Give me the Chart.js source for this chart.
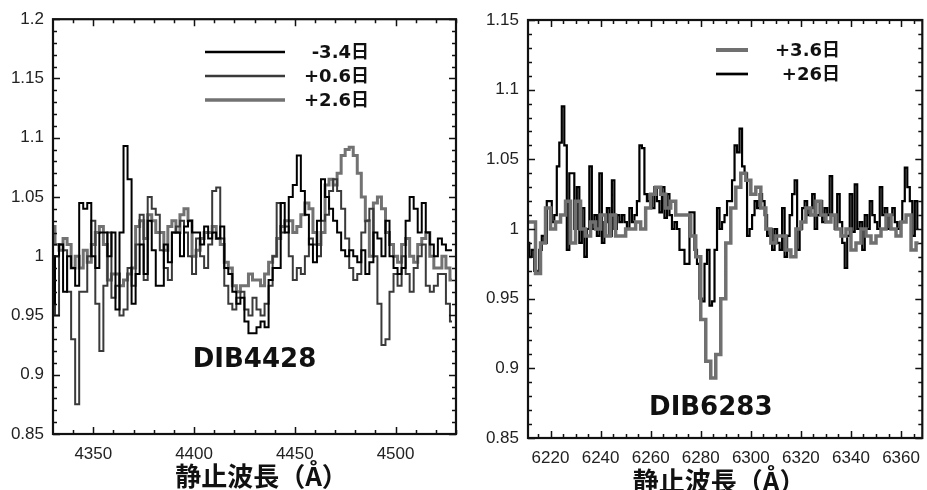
<!DOCTYPE html>
<html>
<head>
<meta charset="utf-8">
<script src="https://cdn.jsdelivr.net/npm/chart.js@4"></script>
<style>
  html, body { margin: 0; padding: 0; background: #fff; overflow: hidden; }
  #wrap { position: relative; width: 927px; height: 490px; overflow: hidden; }
  #left { position: absolute; left: 0; top: 0; }
  #right { position: absolute; left: 460px; top: 0; }
</style>
</head>
<body>
<div id="wrap">
  <canvas id="left" width="460" height="490"></canvas>
  <canvas id="right" width="470" height="490"></canvas>
</div>
<script>
// ---- DIB4428 panel (rest wavelength grid: start + step in Å) ----
const leftStart = 4330, leftStep = 2;
const leftLabels = ['-3.4日', '+0.6日', '+2.6日'];
const fluxM34 = [
  0.96, 1.00, 1.01, 0.97, 1.00, 0.99, 0.975, 1.045, 1.04, 1.045,
  1.0, 0.99, 1.02, 1.02, 1.0, 1.02, 0.955, 1.02, 1.093, 1.065,
  0.96, 0.985, 1.01, 0.985, 1.03, 1.005, 0.975, 0.975, 1.01, 0.995,
  1.02, 1.02, 1.0, 1.025, 1.03, 1.02, 1.02, 1.01, 1.025, 1.015,
  1.02, 1.015, 1.025, 0.99, 0.985, 0.97, 0.96, 0.965, 0.945, 0.935,
  0.935, 0.94, 0.945, 0.94, 0.98, 0.99, 0.99, 1.045, 1.02, 1.05,
  1.06, 1.085, 1.055, 1.035, 1.01, 0.995, 1.03, 1.065, 1.05, 1.04,
  1.03, 1.02, 1.005, 1.0, 1.005, 1.0, 0.995, 1.005, 0.985, 0.995,
  1.02, 1.015, 1.0, 1.03, 1.0, 0.99, 0.985, 0.99, 1.03, 1.05,
  1.04, 1.02, 1.045, 1.02, 1.01, 1.0, 1.015, 1.01, 1.005, 1.005
];
const fluxP06 = [
  1.0, 0.95, 1.01, 1.005, 0.97, 0.93, 0.875, 0.97, 0.97, 1.0,
  1.03, 0.96, 0.92, 0.975, 1.02, 0.965, 0.975, 0.95, 0.955, 0.99,
  0.975, 1.01, 1.035, 0.98, 1.05, 1.04, 1.035, 1.005, 0.99, 0.98,
  1.02, 1.025, 1.03, 1.02, 1.0, 0.985, 1.015, 1.0, 0.99, 1.01,
  1.055, 1.058, 1.015, 0.975, 0.96, 0.955, 0.965, 0.97, 0.955, 0.95,
  0.965, 0.955, 0.95, 0.96, 0.975, 1.0, 1.045, 1.02, 1.025, 1.0,
  0.98, 0.99, 0.985, 1.0, 1.015, 1.01, 1.0, 1.03, 1.035, 1.055,
  1.065, 1.055, 1.04, 1.015, 0.99, 0.98, 0.985, 1.02, 1.03, 1.04,
  1.0, 0.96, 0.925, 0.93, 0.97, 0.985, 0.975, 1.0, 0.985, 0.97,
  0.99, 1.0, 1.01, 0.975, 0.97, 0.975, 0.985, 0.985, 0.96, 0.945
];
const fluxP26 = [
  1.025, 1.01, 1.005, 1.015, 1.01, 0.99, 1.0, 0.99, 1.005, 0.995,
  1.01, 1.02, 1.025, 1.01, 0.98, 0.985, 0.985, 0.975, 0.98, 0.985,
  0.99, 1.025, 1.03, 1.015, 1.035, 1.03, 1.02, 1.02, 1.005, 1.025,
  1.03, 1.02, 1.035, 1.04, 1.03, 1.0, 1.005, 1.015, 1.02, 1.02,
  1.025, 1.015, 1.01, 0.995, 0.99, 0.975, 0.97, 0.975, 0.975, 0.985,
  0.98, 0.98, 0.975, 0.985, 0.995, 1.0, 1.015, 1.025, 1.03, 1.03,
  1.02, 1.025, 1.035, 1.045, 1.04, 1.02, 1.01, 1.02, 1.06, 1.065,
  1.06, 1.07, 1.085, 1.09, 1.092, 1.085, 1.07, 1.05, 1.03, 1.0,
  1.045, 1.05, 1.04, 1.02, 1.01, 1.0, 0.995, 1.01, 1.015, 1.0,
  0.995, 1.01, 1.015, 1.02, 1.0, 0.99, 0.99, 1.0, 0.99, 0.98
];
const leftXTicks = [4350, 4400, 4450, 4500];
const leftYTicks = [0.85, 0.9, 0.95, 1, 1.05, 1.1, 1.15, 1.2];
const leftYTickLabels = ['0.85', '0.9', '0.95', '1', '1.05', '1.1', '1.15', '1.2'];

// ---- DIB6283 panel ----
const grayStart = 6211, grayStep = 2;
const blackStart = 6211, blackStep = 1;
const rightLabels = ['+3.6日', '+26日'];
const fluxP36 = [
  1.005, 1.005, 0.968, 0.99, 1.015, 1.0, 1.005, 1.01, 1.02, 0.99,
  1.02, 1.0, 0.995, 1.005, 1.0, 1.01, 0.995, 1.01, 0.995, 0.995,
  1.0, 1.0, 1.005, 1.0, 1.015, 1.025, 1.03, 1.025, 1.015, 1.02,
  1.01, 1.01, 1.01, 0.995, 0.98, 0.935, 0.905, 0.893, 0.91, 0.95,
  0.99, 1.015, 1.03, 1.04, 1.035, 1.025, 1.03, 1.015, 1.0, 0.99,
  0.995, 0.995, 0.985, 0.98, 1.0, 1.005, 1.015, 1.01, 1.02, 1.01,
  1.005, 1.01, 1.0, 0.995, 1.0, 0.985, 0.99, 1.0, 0.995, 0.99,
  0.995, 1.0, 1.01, 1.0, 0.995, 1.005, 1.01, 0.985, 0.99
];
const fluxP26d = [
  0.99, 0.98, 0.985, 0.97, 0.968, 0.985, 0.995, 0.99, 1.02, 1.02,
  1.005, 1.01, 1.045, 1.062, 1.088, 1.06, 0.985, 1.04, 1.04, 1.0,
  1.03, 0.99, 1.015, 0.98, 1.0, 1.045, 1.0, 1.01, 0.995, 1.04,
  0.99, 1.005, 1.015, 0.995, 1.035, 1.0, 1.01, 1.005, 1.01, 1.005,
  1.0, 1.015, 1.005, 1.01, 1.02, 1.06, 1.058, 1.025, 1.02, 1.025,
  1.015, 1.03, 1.02, 1.012, 1.03, 1.008, 1.025, 1.01, 1.0, 1.005,
  1.0, 0.985, 0.985, 0.975, 0.975, 1.012, 1.012, 0.985, 0.975, 0.95,
  0.948, 0.975, 0.985, 0.945, 0.948, 0.985, 1.015, 1.0, 1.005, 1.01,
  1.02, 1.02, 1.035, 1.06, 1.055, 1.072, 1.045, 1.04, 0.995, 1.0,
  1.01, 1.02, 1.015, 1.025, 1.02, 1.01, 0.995, 1.0, 0.985, 1.0,
  0.99, 0.985, 1.015, 0.98, 0.995, 1.01, 1.025, 1.035, 0.985, 1.0,
  1.015, 1.02, 1.01, 1.015, 1.025, 1.0, 1.01, 1.02, 1.005, 1.015,
  1.01, 1.038, 1.01, 1.0, 1.025, 1.005, 0.99, 0.972, 0.995, 1.025,
  0.998, 1.032, 1.0, 1.005, 0.985, 1.01, 1.0, 1.02, 1.01, 1.005,
  1.0, 1.03, 1.01, 1.015, 1.0, 1.01, 1.015, 1.005, 1.0, 1.005,
  1.02, 1.044, 1.03, 1.02, 0.995, 1.02, 1.0
];
const rightXTicks = [6220, 6240, 6260, 6280, 6300, 6320, 6340, 6360];
const rightYTicks = [0.85, 0.9, 0.95, 1, 1.05, 1.1, 1.15];
const rightYTickLabels = ['0.85', '0.9', '0.95', '1', '1.05', '1.1', '1.15'];

const axisTitle = '静止波長（Å）';

function toPoints(start, step, values) {
  return values.map((v, i) => ({ x: start + i * step, y: v }));
}

function line(label, data, color, width) {
  return {
    label: label,
    data: data,
    borderColor: color,
    borderWidth: width,
    pointRadius: 0,
    stepped: 'middle',
    fill: false,
    borderJoinStyle: 'miter'
  };
}

// frame, inward ticks, legend and text labels
const decor = {
  id: 'decor',
  afterDraw(chart, args, o) {
    const ctx = chart.ctx;
    const a = chart.chartArea;
    const xs = chart.scales.x, ys = chart.scales.y;
    ctx.save();
    ctx.strokeStyle = '#111';
    ctx.lineWidth = 1.5;
    ctx.beginPath();
    for (let v = o.xMinorFrom; v <= xs.max; v += o.xMinor) {
      const px = Math.round(xs.getPixelForValue(v)) + 0.5;
      const len = o.xTicks.includes(v) ? 7 : 4;
      ctx.moveTo(px, a.bottom); ctx.lineTo(px, a.bottom - len);
      ctx.moveTo(px, a.top); ctx.lineTo(px, a.top + len);
    }
    for (let k = 0; k <= Math.round((ys.max - ys.min) / 0.01); k++) {
      const v = ys.min + k * 0.01;
      const py = Math.round(ys.getPixelForValue(v)) + 0.5;
      const len = (k % 5 === 0) ? 7 : 4;
      ctx.moveTo(a.left, py); ctx.lineTo(a.left + len, py);
      ctx.moveTo(a.right, py); ctx.lineTo(a.right - len, py);
    }
    ctx.stroke();
    ctx.lineWidth = 2.2;
    ctx.strokeRect(a.left, a.top, a.right - a.left, a.bottom - a.top);

    // legend
    ctx.textAlign = 'right';
    ctx.textBaseline = 'middle';
    ctx.fillStyle = '#111';
    ctx.font = 'bold 18px "DejaVu Sans", "Noto Sans CJK JP", sans-serif';
    chart.data.datasets.forEach((ds, i) => {
      const y = o.legendY[i];
      ctx.strokeStyle = ds.borderColor;
      ctx.lineWidth = ds.borderWidth + 0.5;
      ctx.beginPath();
      ctx.moveTo(o.legendX[0], y); ctx.lineTo(o.legendX[1], y);
      ctx.stroke();
      ctx.fillText(ds.label, o.legendX[2], y + 1);
    });

    // DIB name inside the plot
    ctx.textAlign = 'center';
    ctx.font = 'bold 26px "DejaVu Sans", sans-serif';
    ctx.fillText(o.name, xs.getPixelForValue(o.nameAt[0]), ys.getPixelForValue(o.nameAt[1]));

    // axis title
    ctx.font = 'bold 26px "Noto Sans CJK JP", "DejaVu Sans", sans-serif';
    ctx.fillText(axisTitle, (a.left + a.right) / 2 + o.titleDx, o.titleY);
    ctx.restore();
  }
};

function makeChart(id, datasets, cfg) {
  new Chart(document.getElementById(id), {
    type: 'line',
    data: { datasets: datasets },
    plugins: [decor],
    options: {
      responsive: false,
      animation: false,
      events: [],
      layout: { padding: cfg.padding },
      plugins: {
        legend: { display: false },
        tooltip: { enabled: false },
        decor: cfg.decor
      },
      scales: {
        x: {
          type: 'linear',
          min: cfg.xMin,
          max: cfg.xMax,
          afterFit: s => { s.height = cfg.xHeight; },
          afterBuildTicks: s => { s.ticks = cfg.xTicks.map(v => ({ value: v })); },
          grid: { display: false, drawTicks: false },
          border: { display: false },
          ticks: {
            padding: 10,
            maxRotation: 0,
            color: '#222',
            font: { family: 'Liberation Sans, Arial, sans-serif', size: 17 },
            callback: v => String(v)
          }
        },
        y: {
          min: cfg.yMin,
          max: cfg.yMax,
          afterFit: s => { s.width = cfg.yWidth; },
          afterBuildTicks: s => { s.ticks = cfg.yTicks.map(v => ({ value: v })); },
          grid: { display: false, drawTicks: false },
          border: { display: false },
          ticks: {
            padding: 9,
            color: '#222',
            font: { family: 'Liberation Sans, Arial, sans-serif', size: 17 },
            callback: (v, i) => cfg.yTickLabels[i]
          }
        }
      }
    }
  });
}

makeChart('left', [
  line(leftLabels[0], toPoints(leftStart, leftStep, fluxM34), '#000', 2),
  line(leftLabels[1], toPoints(leftStart, leftStep, fluxP06), '#3a3a3a', 2),
  line(leftLabels[2], toPoints(leftStart, leftStep, fluxP26), '#727272', 3)
], {
  padding: { left: 0, right: 4, top: 16, bottom: 0 },
  xMin: 4330, xMax: 4530, yMin: 0.85, yMax: 1.2,
  xHeight: 56, yWidth: 53,
  xTicks: leftXTicks, yTicks: leftYTicks, yTickLabels: leftYTickLabels,
  decor: {
    xTicks: leftXTicks, xMinorFrom: 4340, xMinor: 10,
    legendX: [205, 285, 369], legendY: [52, 76, 100],
    name: 'DIB4428', nameAt: [4430, 0.912],
    titleDx: 7, titleY: 476
  }
});

makeChart('right', [
  line(rightLabels[0], toPoints(grayStart, grayStep, fluxP36), '#707070', 3.5),
  line(rightLabels[1], toPoints(blackStart, blackStep, fluxP26d), '#000', 2.2)
], {
  padding: { left: 0, right: 1, top: 20, bottom: 0 },
  xMin: 6211, xMax: 6368.5, yMin: 0.85, yMax: 1.15,
  xHeight: 52, yWidth: 68,
  xTicks: rightXTicks, yTicks: rightYTicks, yTickLabels: rightYTickLabels,
  decor: {
    xTicks: rightXTicks, xMinorFrom: 6215, xMinor: 5,
    legendX: [256, 288, 380], legendY: [50, 74],
    name: 'DIB6283', nameAt: [6284, 0.8715],
    titleDx: -6, titleY: 481
  }
});
</script>
</body>
</html>
